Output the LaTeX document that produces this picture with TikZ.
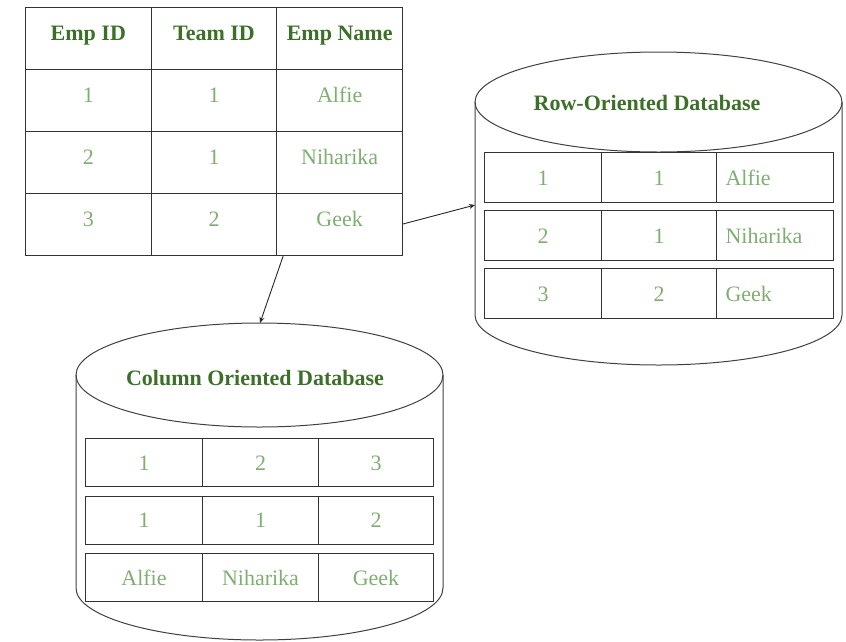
\documentclass[tikz,border=0pt]{standalone}
\usepackage{fontspec}
\setmainfont{Liberation Serif}
\usetikzlibrary{calc}
\usetikzlibrary{arrows.meta}

\definecolor{headgreen}{HTML}{3C7028}
\definecolor{cellgreen}{HTML}{80AE72}

\tikzset{
  cell/.style={draw=black!80, line width=1pt, anchor=north west, inner sep=0pt,
    minimum width=125.67pt, minimum height=62pt, text=cellgreen,
    text height=15.5pt, text depth=11pt,
    font=\fontsize{22}{26}\selectfont},
  head/.style={cell, text=headgreen, font=\fontsize{22}{26}\selectfont\bfseries},
  dbcell/.style={cell, minimum height=49.5pt, text depth=0pt},
  dbname/.style={dbcell, align=left, minimum width=117pt, text width=117pt-18pt, inner xsep=9pt},
  dbtitle/.style={text=headgreen, font=\fontsize{22}{26}\selectfont\bfseries},
  drum/.style={draw=black!75, line width=1pt},
  link/.style={draw=black!85, line width=0.9pt, -{Stealth[length=6pt,width=5pt]}}
}

\begin{document}
\begin{tikzpicture}[x=1pt,y=-1pt]

\useasboundingbox (0,0) rectangle (846,641);

% source table
\node[head] (h1) at (25,6.5) {Emp ID};
\node[head] (h2) at (150.67,6.5) {Team ID};
\node[head] (h3) at (276.33,6.5) {Emp Name};
\node[cell] (e1id) at (25,68.5) {1};
\node[cell] (e1team) at (150.67,68.5) {1};
\node[cell] (e1name) at (276.33,68.5) {Alfie};
\node[cell] (e2id) at (25,130.5) {2};
\node[cell] (e2team) at (150.67,130.5) {1};
\node[cell] (e2name) at (276.33,130.5) {Niharika};
\node[cell] (e3id) at (25,192.5) {3};
\node[cell] (e3team) at (150.67,192.5) {2};
\node[cell] (e3name) at (276.33,192.5) {Geek};

% row oriented drum
\draw[drum] (475,102) -- (475,315) arc[start angle=180, end angle=360, x radius=183.5pt, y radius=50pt] -- (842,102);
\draw[drum] (658.5,102) ellipse [x radius=183.5pt, y radius=50pt];
\node[dbtitle] (rowtitle) at (647,103) {Row-Oriented Database};
\coordinate (rowin) at (475,205);

\node[dbcell, minimum width=117pt] (r1id) at (484,152) {1};
\node[dbcell, minimum width=115pt] (r1team) at (601,152) {1};
\node[dbname] (r1name) at (716,152) {Alfie};
\node[dbcell, minimum width=117pt] (r2id) at (484,210) {2};
\node[dbcell, minimum width=115pt] (r2team) at (601,210) {1};
\node[dbname] (r2name) at (716,210) {Niharika};
\node[dbcell, minimum width=117pt] (r3id) at (484,268) {3};
\node[dbcell, minimum width=115pt] (r3team) at (601,268) {2};
\node[dbname] (r3name) at (716,268) {Geek};

% column oriented drum
\draw[drum] (76,375) -- (76,588) arc[start angle=180, end angle=360, x radius=183.5pt, y radius=52pt] -- (443,375);
\draw[drum] (259.5,375) ellipse [x radius=183.5pt, y radius=52pt];
\node[dbtitle] (coltitle) at (255,378) {Column Oriented Database};
\coordinate (colin) at (260,323);

\node[dbcell, minimum width=117pt, minimum height=48pt] (c1a) at (85,438) {1};
\node[dbcell, minimum width=116pt, minimum height=48pt] (c1b) at (202,438) {2};
\node[dbcell, minimum width=115pt, minimum height=48pt] (c1c) at (318,438) {3};
\node[dbcell, minimum width=117pt, minimum height=48pt] (c2a) at (85,495.5) {1};
\node[dbcell, minimum width=116pt, minimum height=48pt] (c2b) at (202,495.5) {1};
\node[dbcell, minimum width=115pt, minimum height=48pt] (c2c) at (318,495.5) {2};
\node[dbcell, minimum width=117pt, minimum height=48pt] (c3a) at (85,553) {Alfie};
\node[dbcell, minimum width=116pt, minimum height=48pt] (c3b) at (202,553) {Niharika};
\node[dbcell, minimum width=115pt, minimum height=48pt] (c3c) at (318,553) {Geek};

% arrows
\draw[link] (e3name.east) -- (rowin);
\draw[link] ($(e3name.south west)+(7,0)$) -- (colin);

\end{tikzpicture}
\end{document}
